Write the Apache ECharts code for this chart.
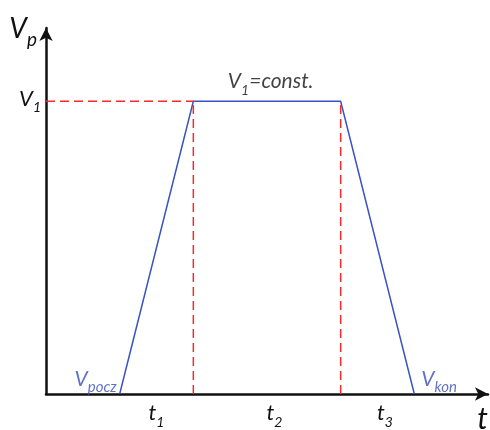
<!DOCTYPE html>
<html>
<head>
<meta charset="utf-8">
<script src="https://cdn.jsdelivr.net/npm/echarts@6/dist/echarts.min.js"></script>
<style>
  html, body { margin: 0; padding: 0; background: #fff; }
  #chart { width: 490px; height: 430px; }
</style>
</head>
<body>
<div id="chart"></div>
<script>
// trapezoidal speed profile: V_pocz -> V1 -> V_kon
var timePoints = [2, 4, 8, 10];
var speedPoints = [0, 1, 1, 0];
var v1 = 1;

// red dashed helper lines (each one is a pair of points)
var guideLines = [
  [[0, 1], [4, 1]],
  [[4, 0], [4, 1]],
  [[8, 0], [8, 1]]
];

// labels under the time axis
var tickValues = [3.0, 6.2, 9.2];
var tickLabels = ['t|t}{s|1}', 't|t}{s|2}', 't|t}{s|3}'];

var BLUE = '#3b52c4';
var TXT_BLUE = '#3a4fb8';
var RED = '#f52a2a';
var FONT = 'Lato';

var subRich = {
  t: { fontSize: 22, fontStyle: 'italic', fontFamily: FONT, color: '#111', padding: [0, 0, 5, 0], verticalAlign: 'bottom' },
  s: { fontSize: 14, fontStyle: 'italic', fontFamily: FONT, color: '#111', verticalAlign: 'bottom' }
};
var blueRich = {
  t: { fontSize: 21, fontStyle: 'italic', fontFamily: FONT, color: TXT_BLUE, padding: [0, 0, 5, 0], verticalAlign: 'bottom' },
  s: { fontSize: 15, fontStyle: 'italic', fontFamily: FONT, color: TXT_BLUE, verticalAlign: 'bottom' }
};

var profile = timePoints.map(function (t, i) { return [t, speedPoints[i]]; });

var series = [{
  type: 'line',
  data: profile,
  symbol: 'none',
  lineStyle: { color: BLUE, width: 1.5 },
  z: 3
}];

guideLines.forEach(function (seg) {
  series.push({
    type: 'line',
    data: seg,
    symbol: 'none',
    lineStyle: { color: RED, width: 1.5, type: [9, 5] },
    z: 4
  });
});

series.push({
  type: 'scatter',
  symbolSize: 0,
  silent: true,
  z: 5,
  data: [
    { value: [timePoints[0], 0], label: { show: true, position: 'left', distance: 3, offset: [0, -12], formatter: '{t|V}{s|pocz}', rich: blueRich } },
    { value: [timePoints[3], 0], label: { show: true, position: 'right', distance: 7, offset: [0, -12], formatter: '{t|V}{s|kon}', rich: blueRich } },
    { value: [6.1, v1], label: { show: true, position: 'top', distance: 4, formatter: '{t|V}{s|1}{c|=const.}', rich: {
      t: { fontSize: 21, fontStyle: 'italic', fontFamily: FONT, color: '#111', padding: [0, 0, 5, 0], verticalAlign: 'bottom' },
      s: { fontSize: 14, fontStyle: 'italic', fontFamily: FONT, color: '#111', verticalAlign: 'bottom' },
      c: { fontSize: 21, fontStyle: 'italic', fontFamily: FONT, color: '#111', padding: [0, 0, 5, 0], verticalAlign: 'bottom' }
    } } }
  ]
});

var chart = echarts.init(document.getElementById('chart'));
chart.setOption({
  animation: false,
  grid: { left: 46, right: 2, top: 28, bottom: 36, outerBoundsMode: 'none' },
  xAxis: {
    type: 'value',
    min: 0,
    max: 12,
    name: 't',
    nameLocation: 'end',
    nameGap: 0,
    nameTextStyle: { fontSize: 30, fontStyle: 'italic', fontFamily: FONT, color: '#111', align: 'right', verticalAlign: 'top', padding: [10, 0, 0, 0] },
    axisLine: { lineStyle: { color: '#111', width: 2.5 }, symbol: ['none', 'arrow'], symbolSize: [10, 13] },
    axisTick: { show: false },
    splitLine: { show: false },
    axisLabel: {
      customValues: tickValues,
      margin: 8,
      formatter: function (val) {
        var i = tickValues.indexOf(val);
        return i < 0 ? '' : '{' + tickLabels[i];
      },
      rich: subRich
    }
  },
  yAxis: {
    type: 'value',
    min: 0,
    max: 1.25,
    name: '{t|V}{s|p}',
    nameLocation: 'end',
    nameGap: -4,
    nameTextStyle: { align: 'right', verticalAlign: 'middle', padding: [0, 9, 0, 0], rich: {
      t: { fontSize: 28, fontStyle: 'italic', fontFamily: FONT, color: '#111', padding: [0, 0, 6, 0], verticalAlign: 'bottom' },
      s: { fontSize: 19, fontStyle: 'italic', fontFamily: FONT, color: '#111', verticalAlign: 'bottom' }
    } },
    axisLine: { show: true, lineStyle: { color: '#111', width: 2.5 }, symbol: ['none', 'arrow'], symbolSize: [10, 13] },
    axisTick: { show: false },
    splitLine: { show: false },
    axisLabel: {
      customValues: [v1],
      margin: 5,
      formatter: function () { return '{t|V}{s|1}'; },
      rich: subRich
    }
  },
  series: series
});
</script>
</body>
</html>
